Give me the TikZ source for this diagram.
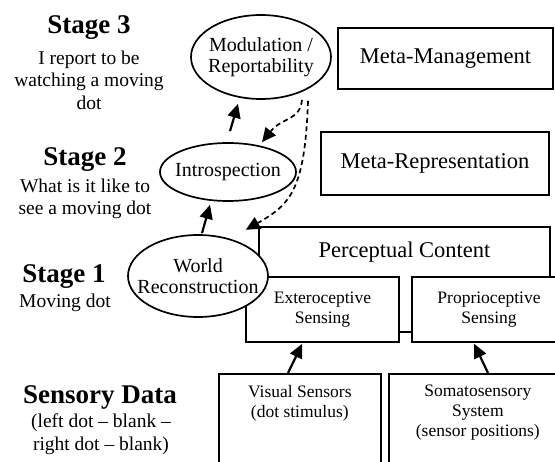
\documentclass[tikz,border=0pt]{standalone}
\usepackage{fontspec}
\setmainfont{Liberation Serif}
\usetikzlibrary{arrows.meta,shapes.geometric,calc}
\begin{document}
\begin{tikzpicture}[x=1pt,y=-1pt,
  box/.style={draw, line width=1.7pt, fill=white, inner sep=0pt},
  oval/.style={ellipse, draw, line width=1.7pt, fill=white, inner sep=0pt},
  ovaltext/.style={align=center, inner sep=0pt, font=\fontsize{20}{21.5}\selectfont},
  title/.style={font=\fontsize{27}{30}\selectfont\bfseries, inner sep=0pt},
  desc/.style={font=\fontsize{19.5}{22.5}\selectfont, align=center, inner sep=0pt},
  big/.style={font=\fontsize{22.5}{25}\selectfont},
  small/.style={font=\fontsize{17.5}{20}\selectfont, align=center, inner sep=0pt},
  arr/.style={line width=2.2pt, -{Triangle[length=14pt,width=13pt]}},
  darr/.style={line width=1.7pt, dash pattern=on 5pt off 3.5pt, -{Triangle[length=14pt,width=13pt]}},
]
\clip (0,0) rectangle (555,462);
\fill[white] (0,0) rectangle (555,462);

% stage labels
\node[title] (s3) at (89,28) {Stage 3};
\node[desc] (s3d) at (89,80) {I report to be\\watching a moving\\dot};
\node[title] (s2) at (85,160) {Stage 2};
\node[desc] (s2d) at (85,199) {What is it like to\\see a moving dot};
\node[title] (s1) at (64,277) {Stage 1};
\node[desc] (s1d) at (65,303) {Moving dot};
\node[title] (sd) at (100,397) {Sensory Data};
\node[desc] (sdd) at (101,434) {(left dot -- blank --\\right dot -- blank)};

% right column boxes
\node[box, big, minimum width=215pt, minimum height=61pt] (mm) at (445.5,58.5) {Meta-Management};
\node[box, big, minimum width=228pt, minimum height=63pt] (mr) at (435,163.5) {Meta-Representation};
\node[big, inner sep=0pt, minimum width=291pt, minimum height=50pt] (pc) at (404.5,252) {Perceptual Content};
\draw[line width=1.7pt] (pc.south west) |- (pc.north east) -- (pc.south east);
\node[box, small, minimum width=153pt, minimum height=65pt] (ext) at (322.5,309.5) {Exteroceptive\\Sensing};
\node[box, small, minimum width=154pt, minimum height=65pt] (pro) at (489,309.5) {Proprioceptive\\Sensing};
\draw[line width=1.7pt] ($(ext.south east)+(0,-11)$) -- ($(pro.south west)+(0,-11)$);

\node[box, minimum width=162pt, minimum height=110pt, anchor=north west] (vis) at (218,373) {};
\node[small] (vist) at ($(vis.north)+(0,30)$) {Visual Sensors\\(dot stimulus)};
\node[box, minimum width=178pt, minimum height=110pt, anchor=north west] (soma) at (388,373) {};
\node[small] (somat) at ($(soma.north)+(0,40)$) {Somatosensory\\System\\(sensor positions)};

% ellipses
\node[oval, minimum width=140pt, minimum height=84pt,
  label={[ovaltext]center:Modulation /\\Reportability}] (mod) at (261,57) {};
\node[oval, minimum width=136pt, minimum height=58pt,
  label={[ovaltext]center:Introspection}] (intro) at (228,172) {};
\node[oval, minimum width=140pt, minimum height=82pt,
  label={[ovaltext]center:World\\Reconstruction}] (world) at (198,276) {};

% solid arrows
\draw[arr] ($(vis.north west)+(70,0)$) -- ($(ext.south west)+(57,1)$);
\draw[arr] ($(soma.north west)+(100,0)$) -- ($(pro.south west)+(63,1)$);
\draw[arr] ($(world.north)+(4,-1)$) -- ($(intro.south)+(-18,3)$);
\draw[arr] ($(intro.north)+(2,-11)$) -- ($(mod.south)+(-23,4)$);

% dashed arrows
\draw[darr] ($(mod.south)+(41,0)$) .. controls +(-2,21) and +(20,-25) .. ($(intro.north)+(34,0)$);
\draw[darr] ($(mod.south)+(47,1)$) .. controls +(-3,90) and +(44,-25) .. ($(pc.north west)+(-13,3)$);
\end{tikzpicture}
\end{document}
